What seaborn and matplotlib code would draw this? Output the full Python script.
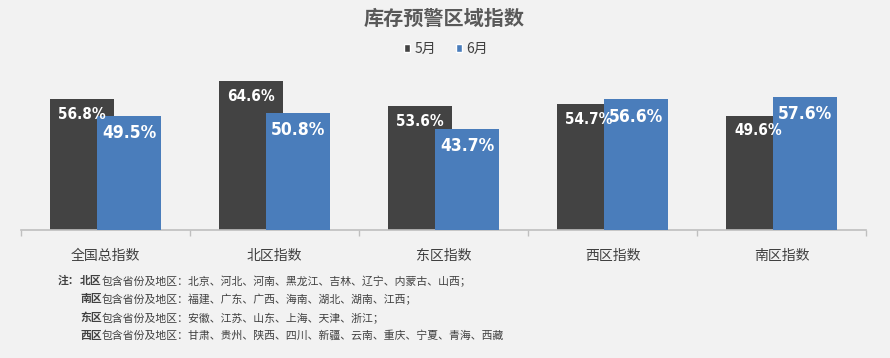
import pandas as pd
import matplotlib.pyplot as plt
import seaborn as sns
from matplotlib.patches import Patch

# Data
regions = ["全国总指数", "北区指数", "东区指数", "西区指数", "南区指数"]
may_values = [56.8, 64.6, 53.6, 54.7, 49.6]
june_values = [49.5, 50.8, 43.7, 56.6, 57.6]
months = ["5月", "6月"]

notes_head = ["北区", "南区", "东区", "西区"]
notes_body = [
    "包含省份及地区：北京、河北、河南、黑龙江、吉林、辽宁、内蒙古、山西；",
    "包含省份及地区：福建、广东、广西、海南、湖北、湖南、江西；",
    "包含省份及地区：安徽、江苏、山东、上海、天津、浙江；",
    "包含省份及地区：甘肃、贵州、陕西、四川、新疆、云南、重庆、宁夏、青海、西藏",
]

df = pd.DataFrame({
    "region": regions * 2,
    "month": [months[0]] * len(regions) + [months[1]] * len(regions),
    "value": may_values + june_values,
})

dark = "#434343"
blue = "#4a7dbb"
bg = "#f2f2f2"
text_color = "#404040"

sns.set_theme(style="white")
plt.rcParams["font.family"] = ["Noto Sans CJK SC", "DejaVu Sans"]

fig = plt.figure(figsize=(8.9, 3.58), dpi=100, facecolor=bg)
ax = fig.add_axes([21 / 890, 128 / 358, 845 / 890, 161.5 / 358])
ax.set_facecolor(bg)

sns.barplot(data=df, x="region", y="value", hue="month",
            palette=[dark, blue], ax=ax, legend=False, saturation=1)

# Excel-style overlapping bars: each bar 0.378 wide, blue overlaps the dark one
bar_w = 0.378
offsets = [-0.328, -0.05]
for k, cont in enumerate(ax.containers):
    for i, p in enumerate(cont.patches):
        p.set_width(bar_w)
        p.set_x(i + offsets[k])
        p.set_edgecolor("none")
        p.set_zorder(2 + k)

label_font = ["DejaVu Sans"]
ax.bar_label(ax.containers[0], fmt="%.1f%%", padding=-16.5, color="white",
             fontsize=11, fontweight="bold", fontstretch="condensed",
             family=label_font, zorder=6)
ax.bar_label(ax.containers[1], fmt="%.1f%%", padding=-18.8, color="white",
             fontsize=12.5, fontweight="bold", fontstretch="condensed",
             family=label_font, zorder=6)

ax.set_xlim(-0.5, len(regions) - 0.5)
ax.set_ylim(0, 70)
ax.set_xlabel("")
ax.set_ylabel("")
ax.set_yticks([])
for s in ["top", "right", "left"]:
    ax.spines[s].set_visible(False)
ax.spines["bottom"].set_color("#bfbfbf")
ax.spines["bottom"].set_linewidth(1.2)

ax.set_xticks(range(len(regions)))
ax.set_xticklabels(regions, fontsize=10, color=text_color)
ax.tick_params(axis="x", which="major", length=0, pad=14)
ax.set_xticks([i - 0.5 for i in range(len(regions) + 1)], minor=True)
ax.tick_params(axis="x", which="minor", length=4, width=1, color="#bfbfbf",
               direction="out", bottom=True)

fig.text(444 / 890, 1 - 18 / 358, "库存预警区域指数", ha="center", va="center",
         fontsize=14.5, fontweight="bold", color="#595959")

handles = [Patch(facecolor=dark, label=months[0]),
           Patch(facecolor=blue, label=months[1])]
fig.legend(handles=handles, loc="center", bbox_to_anchor=(446 / 890, 1 - 49 / 358),
           ncol=2, frameon=False, fontsize=10, handlelength=0.45, handleheight=0.55,
           handletextpad=0.3, columnspacing=1.4, labelcolor=text_color)

# Notes under the chart
note_y = [281, 299, 318, 336]
fig.text(58 / 890, 1 - note_y[0] / 358, "注：", ha="left", va="center",
         fontsize=7.8, fontweight="bold", color=text_color)
for head, body, y in zip(notes_head, notes_body, note_y):
    t = fig.text(80 / 890, 1 - y / 358, head, ha="left", va="center",
                 fontsize=7.8, fontweight="bold", color=text_color)
    ax.annotate(body, xy=(1, 0.5), xycoords=t, ha="left", va="center",
                fontsize=7.8, color=text_color, annotation_clip=False)

fig.savefig("out.png", dpi=100, facecolor=bg)
